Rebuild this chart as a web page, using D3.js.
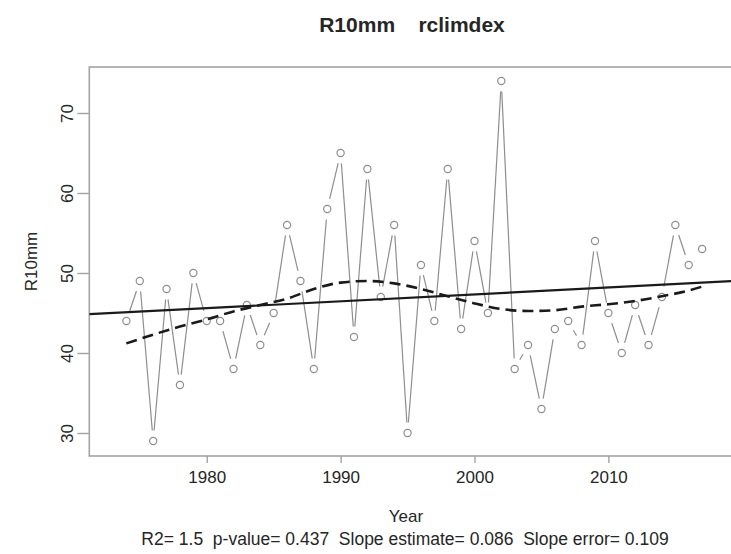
<!DOCTYPE html>
<html>
<head>
<meta charset="utf-8">
<script src="https://cdn.jsdelivr.net/npm/d3@7"></script>
<style>
  html, body { margin: 0; padding: 0; background: #fff; }
  svg { display: block; }
  text { font-family: "Liberation Sans", Arial, Helvetica, sans-serif; fill: #262626; }
</style>
</head>
<body>
<svg id="chart" width="731" height="554"></svg>
<script>
// ---- data ----
const years = [1974,1975,1976,1977,1978,1979,1980,1981,1982,1983,1984,1985,1986,1987,1988,1989,
               1990,1991,1992,1993,1994,1995,1996,1997,1998,1999,2000,2001,2002,2003,2004,2005,
               2006,2007,2008,2009,2010,2011,2012,2013,2014,2015,2016,2017];
const r10mm = [44,49,29,48,36,50,44,44,38,46,41,45,56,49,38,58,
               65,42,63,47,56,30,51,44,63,43,54,45,74,38,41,33,
               43,44,41,54,45,40,46,41,47,56,51,53];
// lowess smoother (dashed)
const smoothYears  = [1974,1976,1978,1980,1982,1984,1986,1988,1990,1992,1994,1996,1998,2000,2002,2004,2006,2008,2010,2012,2014,2016,2017];
const smoothValues = [41.2,42.3,43.3,44.2,45.2,46.0,46.8,48.0,48.8,49.0,48.7,48.0,47.1,46.2,45.5,45.25,45.35,45.8,46.1,46.5,47.1,47.8,48.3];
// linear trend
const trendYears  = [1971.23, 2019.68];
const trendValues = [44.85, 49.02];
const xTicks = [1980,1990,2000,2010];
const yTicks = [30,40,50,60,70];
const titleText = "R10mm    rclimdex";
const xLabel = "Year";
const yLabel = "R10mm";
const statsText = "R2= 1.5  p-value= 0.437  Slope estimate= 0.086  Slope error= 0.109";

// ---- layout ----
const svg = d3.select("#chart");
const plot = {left: 89.3, right: 738, top: 67, bottom: 456};
const x = d3.scaleLinear().domain([1971.23, 2019.68]).range([plot.left, plot.right]);
const y = d3.scaleLinear().domain([27.125, 75.75]).range([plot.bottom, plot.top]);

const gray = "#8e8e8e";
const boxGray = "#a3a3a3";

// title
svg.append("text").attr("x", 412).attr("y", 31.5).attr("text-anchor", "middle")
  .attr("font-size", 21).attr("font-weight", "bold").style("white-space", "pre")
  .attr("xml:space", "preserve").text(titleText);

// clip
svg.append("defs").append("clipPath").attr("id", "clip")
  .append("rect").attr("x", plot.left).attr("y", plot.top)
  .attr("width", plot.right - plot.left).attr("height", plot.bottom - plot.top);

// box
svg.append("rect").attr("x", plot.left).attr("y", plot.top)
  .attr("width", plot.right - plot.left).attr("height", plot.bottom - plot.top)
  .attr("fill", "none").attr("stroke", boxGray).attr("stroke-width", 1.6);

// x axis
const xAxis = d3.axisBottom(x).tickValues(xTicks).tickFormat(d3.format("d")).tickSizeInner(7).tickSizeOuter(0).tickPadding(8);
const gx = svg.append("g").attr("transform", `translate(0,${plot.bottom})`).call(xAxis);
gx.select(".domain").remove();
gx.selectAll(".tick line").attr("stroke", boxGray).attr("stroke-width", 1.4);
gx.selectAll(".tick text").attr("font-size", 17).attr("fill", "#333")
  .attr("font-family", "'Liberation Sans', Arial, sans-serif").attr("dy", "0.71em");

// y axis
const yAxis = d3.axisLeft(y).tickValues(yTicks).tickSizeInner(12).tickSizeOuter(0).tickPadding(0);
const gy = svg.append("g").attr("transform", `translate(${plot.left},0)`).call(yAxis);
gy.select(".domain").remove();
gy.selectAll(".tick line").attr("stroke", boxGray).attr("stroke-width", 1.4);
gy.selectAll(".tick text").attr("font-size", 17).attr("fill", "#333")
  .attr("font-family", "'Liberation Sans', Arial, sans-serif")
  .attr("x", null).attr("dy", null)
  .attr("text-anchor", "middle")
  .attr("transform", "translate(-16,0) rotate(-90)");

// axis labels
svg.append("text").attr("x", 406).attr("y", 522).attr("text-anchor", "middle")
  .attr("font-size", 17).text(xLabel);
svg.append("text").attr("transform", `translate(37,${(plot.top + plot.bottom) / 2}) rotate(-90)`)
  .attr("text-anchor", "middle").attr("font-size", 17).text(yLabel);
svg.append("text").attr("x", 405).attr("y", 545).attr("text-anchor", "middle")
  .attr("font-size", 17.5).style("white-space", "pre").attr("xml:space", "preserve").text(statsText);

const g = svg.append("g").attr("clip-path", "url(#clip)");

// data line, type "b" (gaps around the points)
const pts = years.map((yr, i) => [x(yr), y(r10mm[i])]);
const gap = 10.5;
const segs = [];
for (let i = 0; i < pts.length - 1; i++) {
  const [x0, y0] = pts[i], [x1, y1] = pts[i + 1];
  const dx = x1 - x0, dy = y1 - y0, len = Math.hypot(dx, dy);
  if (len > 2 * gap + 0.5) {
    const ux = dx / len, uy = dy / len;
    segs.push([x0 + ux * gap, y0 + uy * gap, x1 - ux * gap, y1 - uy * gap]);
  }
}
g.selectAll("line.seg").data(segs).join("line").attr("class", "seg")
  .attr("x1", d => d[0]).attr("y1", d => d[1]).attr("x2", d => d[2]).attr("y2", d => d[3])
  .attr("stroke", gray).attr("stroke-width", 1.2);

g.selectAll("circle.pt").data(years).join("circle").attr("class", "pt")
  .attr("cx", d => x(d)).attr("cy", (d, i) => y(r10mm[i])).attr("r", 3.6)
  .attr("fill", "none").attr("stroke", gray).attr("stroke-width", 1.2);

// trend line
g.append("path").datum(trendYears.map((yr, i) => [yr, trendValues[i]]))
  .attr("d", d3.line().x(d => x(d[0])).y(d => y(d[1])))
  .attr("fill", "none").attr("stroke", "#1a1a1a").attr("stroke-width", 2.2);

// lowess
g.append("path").datum(smoothYears.map((yr, i) => [yr, smoothValues[i]]))
  .attr("d", d3.line().x(d => x(d[0])).y(d => y(d[1])).curve(d3.curveMonotoneX))
  .attr("fill", "none").attr("stroke", "#1a1a1a").attr("stroke-width", 2.6)
  .attr("stroke-dasharray", "11,6");
</script>
</body>
</html>
